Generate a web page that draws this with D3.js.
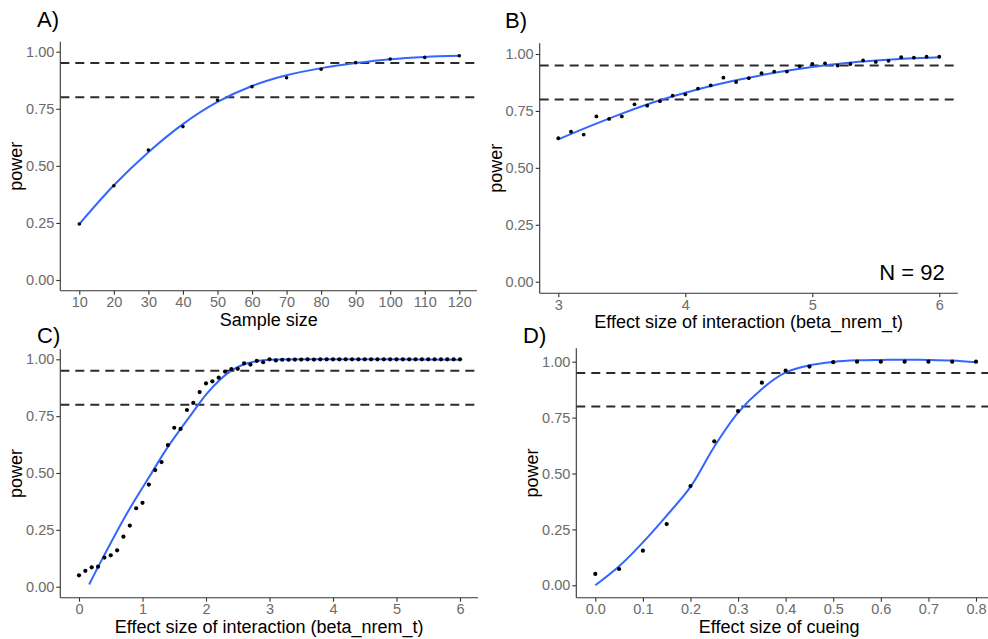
<!DOCTYPE html>
<html>
<head>
<meta charset="utf-8">
<script src="https://cdn.jsdelivr.net/npm/d3@7"></script>
<style>
  body { margin: 0; background: #fff; }
  svg { display: block; font-family: "Liberation Sans", Arial, sans-serif; }
</style>
</head>
<body>
<div id="chart"></div>
<script>
// ---- data ----
const thresholds = [0.8, 0.95];
const yTicks = [0, 0.25, 0.5, 0.75, 1];

// A) power by sample size
const sampleSize = [10, 20, 30, 40, 50, 60, 70, 80, 90, 100, 110, 120];
const powerA = [0.245, 0.413, 0.569, 0.672, 0.788, 0.847, 0.886, 0.923, 0.952, 0.968, 0.975, 0.982];
const fitA = [0.245, 0.415, 0.560, 0.683, 0.780, 0.850, 0.897, 0.928, 0.950, 0.967, 0.977, 0.982];
const xTicksA = [10, 20, 30, 40, 50, 60, 70, 80, 90, 100, 110, 120];

// B) power by effect size, N = 92
const betaB = [3.0, 3.1, 3.2, 3.3, 3.4, 3.5, 3.6, 3.7, 3.8, 3.9, 4.0, 4.1, 4.2, 4.3, 4.4, 4.5,
               4.6, 4.7, 4.8, 4.9, 5.0, 5.1, 5.2, 5.3, 5.4, 5.5, 5.6, 5.7, 5.8, 5.9, 6.0];
const powerB = [0.630, 0.659, 0.646, 0.726, 0.715, 0.726, 0.779, 0.773, 0.793, 0.817, 0.823, 0.848,
                0.862, 0.896, 0.877, 0.894, 0.916, 0.923, 0.923, 0.946, 0.957, 0.959, 0.949, 0.956,
                0.972, 0.965, 0.970, 0.986, 0.984, 0.988, 0.988];
const fitBx = [3.0, 3.25, 3.5, 3.75, 4.0, 4.25, 4.5, 4.75, 5.0, 5.25, 5.5, 5.75, 6.0];
const fitBy = [0.625, 0.683, 0.738, 0.788, 0.830, 0.866, 0.896, 0.922, 0.943, 0.959, 0.971, 0.980, 0.986];
const xTicksB = [3, 4, 5, 6];

// C) power by effect size of interaction
const betaC = [0.0, 0.1, 0.2, 0.3, 0.4, 0.5, 0.6, 0.7, 0.8, 0.9, 1.0, 1.1, 1.2, 1.3, 1.4, 1.5,
               1.6, 1.7, 1.8, 1.9, 2.0, 2.1, 2.2, 2.3, 2.4, 2.5, 2.6, 2.7, 2.8, 2.9, 3.0,
               3.1, 3.2, 3.3, 3.4, 3.5, 3.6, 3.7, 3.8, 3.9, 4.0, 4.1, 4.2, 4.3, 4.4, 4.5,
               4.6, 4.7, 4.8, 4.9, 5.0, 5.1, 5.2, 5.3, 5.4, 5.5, 5.6, 5.7, 5.8, 5.9, 6.0];
const powerC = [0.050, 0.070, 0.085, 0.088, 0.128, 0.138, 0.160, 0.220, 0.269, 0.345, 0.369, 0.449,
                0.513, 0.548, 0.623, 0.699, 0.694, 0.777, 0.808, 0.856, 0.894, 0.903, 0.919, 0.946,
                0.957, 0.958, 0.982, 0.977, 0.993, 0.987, 1.000,
                0.995, 0.998, 0.998, 0.999, 0.999, 1.000, 0.999, 1.000, 1.000, 1.000, 1.000, 1.000,
                1.000, 1.000, 1.000, 1.000, 1.000, 1.000, 1.000, 1.000, 1.000, 1.000, 1.000, 1.000,
                1.000, 1.000, 1.000, 1.000, 1.000, 1.000];
const fitCx = [0.16, 0.4, 0.75, 1.1, 1.4, 1.8, 2.0, 2.2, 2.4, 2.6, 2.8, 3.0, 4.0, 5.0, 6.0];
const fitCy = [0.010, 0.140, 0.320, 0.480, 0.615, 0.770, 0.845, 0.905, 0.950, 0.978, 0.992, 0.998, 1.000, 1.000, 0.998];
const xTicksC = [0, 1, 2, 3, 4, 5, 6];

// D) power by effect size of cueing
const cueing = [0.00, 0.05, 0.10, 0.15, 0.20, 0.25, 0.30, 0.35, 0.40, 0.45, 0.50, 0.55, 0.60, 0.65, 0.70, 0.75, 0.80];
const powerD = [0.051, 0.073, 0.155, 0.274, 0.444, 0.644, 0.779, 0.906, 0.960, 0.978, 0.998, 1.0, 1.0, 1.0, 1.0, 1.0, 1.0];
const fitD = [0.000, 0.085, 0.192, 0.312, 0.440, 0.620, 0.772, 0.878, 0.952, 0.984, 0.999, 1.006, 1.008, 1.009, 1.008, 1.005, 0.997];
const xTicksD = [0, 0.1, 0.2, 0.3, 0.4, 0.5, 0.6, 0.7, 0.8];

// ---- layout ----
const W = 988, H = 639;
const svg = d3.select("#chart").append("svg").attr("width", W).attr("height", H);

const panels = [
  { tag: "A)", tagX: 37, tagY: 27,
    box: { l: 60.3, r: 477, t: 41.7, b: 290.7 },
    xd: [10, 120], xr: [79.3, 459.3], yr: [280, 51.7],
    px: sampleSize, py: powerA, fx: sampleSize, fy: fitA, r: 1.8,
    ticks: xTicksA, fmt: d3.format("d"),
    xlab: "Sample size", ylabX: 16 },
  { tag: "B)", tagX: 505, tagY: 28,
    box: { l: 539.7, r: 957.7, t: 43.3, b: 293.3 },
    xd: [3, 6], xr: [558.3, 939.3], yr: [281.7, 54],
    px: betaB, py: powerB, fx: fitBx, fy: fitBy, r: 1.9,
    ticks: xTicksB, fmt: d3.format("d"),
    xlab: "Effect size of interaction (beta_nrem_t)", ylabX: 496, note: "N = 92" },
  { tag: "C)", tagX: 37, tagY: 343,
    box: { l: 60.3, r: 478, t: 349.3, b: 597.7 },
    xd: [0, 6], xr: [79, 460], yr: [586.7, 359.3],
    px: betaC, py: powerC, fx: fitCx, fy: fitCy, r: 2.1,
    ticks: xTicksC, fmt: d3.format("d"),
    xlab: "Effect size of interaction (beta_nrem_t)", ylabX: 16 },
  { tag: "D)", tagX: 523, tagY: 343,
    box: { l: 576.3, r: 996, t: 348.3, b: 597.7 },
    xd: [0, 0.8], xr: [595.3, 976], yr: [585.3, 361.7],
    px: cueing, py: powerD, fx: cueing, fy: fitD, r: 2.1,
    ticks: xTicksD, fmt: d3.format(".1f"),
    xlab: "Effect size of cueing", ylabX: 532 }
];

panels.forEach(p => {
  const x = d3.scaleLinear().domain(p.xd).range(p.xr);
  const y = d3.scaleLinear().domain([0, 1]).range(p.yr);
  const g = svg.append("g");
  const b = p.box;

  // threshold lines
  g.selectAll(".hline").data(thresholds).join("line")
    .attr("x1", b.l).attr("x2", b.r)
    .attr("y1", d => y(d)).attr("y2", d => y(d))
    .attr("stroke", "#2b2b2b").attr("stroke-width", 2)
    .attr("stroke-dasharray", "9,6");

  // smooth fit
  const fit = p.fx.map((v, i) => [v, p.fy[i]]);
  g.append("path").datum(fit)
    .attr("fill", "none").attr("stroke", "#3366FF").attr("stroke-width", 2)
    .attr("d", d3.line().x(d => x(d[0])).y(d => y(d[1])).curve(d3.curveCatmullRom.alpha(0.5)));

  // points
  const pts = p.px.map((v, i) => [v, p.py[i]]);
  g.selectAll(".pt").data(pts).join("circle")
    .attr("cx", d => x(d[0])).attr("cy", d => y(d[1]))
    .attr("r", p.r).attr("fill", "#000");

  // axes
  const xa = g.append("g").attr("transform", `translate(0,${b.b})`)
    .call(d3.axisBottom(x).tickValues(p.ticks).tickFormat(p.fmt).tickSize(4).tickSizeOuter(0).tickPadding(2));
  const ya = g.append("g").attr("transform", `translate(${b.l},0)`)
    .call(d3.axisLeft(y).tickValues(yTicks).tickFormat(d3.format(".2f")).tickSize(4).tickSizeOuter(0).tickPadding(2));
  [xa, ya].forEach(a => {
    a.select(".domain").remove();
    a.selectAll(".tick line").attr("stroke", "#333").attr("stroke-width", 1.1);
    a.selectAll(".tick text").attr("fill", "#6b6b6b").style("font-size", "14.5px")
      .style("font-family", "'Liberation Sans', Arial, sans-serif");
  });
  g.append("line").attr("x1", b.l).attr("x2", b.r).attr("y1", b.b).attr("y2", b.b)
    .attr("stroke", "#333").attr("stroke-width", 1.1);
  g.append("line").attr("x1", b.l).attr("x2", b.l).attr("y1", b.t).attr("y2", b.b)
    .attr("stroke", "#333").attr("stroke-width", 1.1);

  // titles
  g.append("text").attr("x", (b.l + Math.min(b.r, W)) / 2 + (p.tag === "D)" ? -3 : 0)).attr("y", b.b + 35)
    .attr("text-anchor", "middle").style("font-size", "18px").attr("fill", "#000")
    .text(p.xlab);
  const ym = (b.t + b.b) / 2;
  g.append("text").attr("transform", `translate(${p.ylabX + 6},${ym}) rotate(-90)`)
    .attr("text-anchor", "middle").style("font-size", "18px").attr("fill", "#000")
    .text("power");
  g.append("text").attr("x", p.tagX).attr("y", p.tagY)
    .style("font-size", "22px").attr("fill", "#000").text(p.tag);
  if (p.note) {
    g.append("text").attr("x", b.r - 13).attr("y", y(0) - 1.5)
      .attr("text-anchor", "end").style("font-size", "22px").attr("fill", "#000").text(p.note);
  }
});
</script>
</body>
</html>
